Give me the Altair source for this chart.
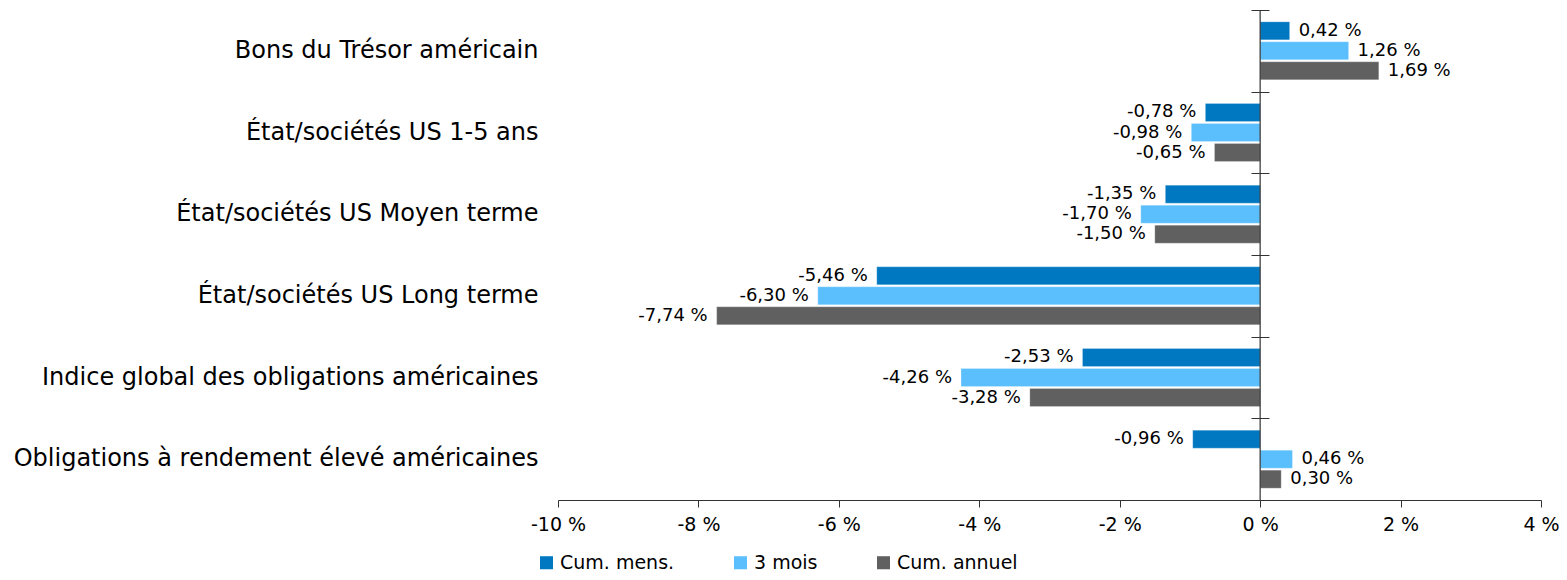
import altair as alt
import pandas as pd

categories = [
    "Bons du Trésor américain",
    "État/sociétés US 1-5 ans",
    "État/sociétés US Moyen terme",
    "État/sociétés US Long terme",
    "Indice global des obligations américaines",
    "Obligations à rendement élevé américaines",
]
series = ["Cum. mens.", "3 mois", "Cum. annuel"]
colors = ["#0078C1", "#5BBFFD", "#606060"]
cum_mens = [0.42, -0.78, -1.35, -5.46, -2.53, -0.96]
trois_mois = [1.26, -0.98, -1.70, -6.30, -4.26, 0.46]
cum_annuel = [1.69, -0.65, -1.50, -7.74, -3.28, 0.30]
x_ticks = [-10, -8, -6, -4, -2, 0, 2, 4]

rows = []
for s, vals in zip(series, [cum_mens, trois_mois, cum_annuel]):
    for c, v in zip(categories, vals):
        rows.append({"cat": c, "serie": s, "value": v})
df = pd.DataFrame(rows)

FONT = "DejaVu Sans"

base = alt.Chart(df)

y_left = alt.Y(
    "cat:N", sort=categories, title=None,
    scale=alt.Scale(paddingInner=0, paddingOuter=0),
    axis=alt.Axis(domain=False, ticks=False, labelPadding=20, labelFontSize=24,
                  labelFont=FONT, labelColor="black", labelLimit=700),
)
y_plain = alt.Y("cat:N", sort=categories, title=None, axis=None)
y_off = alt.YOffset("serie:N", sort=series,
                    scale=alt.Scale(paddingInner=0.1, paddingOuter=0.59))
x_enc = alt.X(
    "value:Q", title=None,
    scale=alt.Scale(domain=[-10, 4], nice=False, zero=False),
    axis=alt.Axis(values=x_ticks, labelExpr="datum.value + ' %'", grid=False,
                  labelFlush=False, labelOverlap=False,
                  domainColor="#333333", tickColor="#333333", tickSize=7,
                  labelFontSize=19, labelFont=FONT, labelColor="black", labelPadding=8),
)
color_enc = alt.Color(
    "serie:N", sort=series, title=None,
    scale=alt.Scale(domain=series, range=colors),
    legend=alt.Legend(orient="none", legendX=-21, legendY=543, direction="horizontal",
                      symbolType="square", symbolSize=170, symbolStrokeWidth=0,
                      labelFontSize=19, labelFont=FONT, labelColor="black",
                      columnPadding=56, symbolOffset=0, labelOffset=4),
)

bars = base.mark_bar(stroke="white", strokeWidth=0.6, strokeOpacity=0.4).encode(
    y=y_left, x=x_enc, yOffset=y_off, color=color_enc,
)

label_expr = "replace(replace(format(datum.value, '.2f'), '.', ','), '\u2212', '-') + ' %'"

pos_text = base.transform_filter("datum.value >= 0").transform_calculate(
    lab=label_expr
).mark_text(align="left", baseline="middle", dx=9, fontSize=18, font=FONT, color="black").encode(
    y=alt.Y("cat:N", sort=categories, title=None,
            axis=alt.Axis(orient="right", offset=-290, domain=False, labels=False,
                          ticks=True, tickBand="extent", tickSize=18,
                          tickColor="#333333", tickWidth=1)),
    x=alt.X("value:Q", title=None),
    yOffset=y_off,
    text="lab:N",
)

neg_text = base.transform_filter("datum.value < 0").transform_calculate(
    lab=label_expr
).mark_text(align="right", baseline="middle", dx=-9, fontSize=18, font=FONT, color="black").encode(
    y=y_plain,
    x=alt.X("value:Q", title=None),
    yOffset=y_off,
    text="lab:N",
)

zero_rule = alt.Chart(pd.DataFrame({"z": [0]})).mark_rule(color="#333333", strokeWidth=1.2).encode(
    x=alt.X("z:Q", title=None),
)

chart = alt.layer(bars, pos_text, neg_text, zero_rule).resolve_axis(
    y="independent"
).properties(
    width=983, height=490,
    autosize=alt.AutoSizeParams(type="none"),
    padding={"left": 558, "top": 10, "right": 26, "bottom": 80},
    view=alt.ViewBackground(stroke="transparent", strokeWidth=0),
).configure_view(strokeWidth=0, stroke="transparent").configure(background="white")

chart.save("out.html", embed_options={"renderer": "svg", "actions": False})
